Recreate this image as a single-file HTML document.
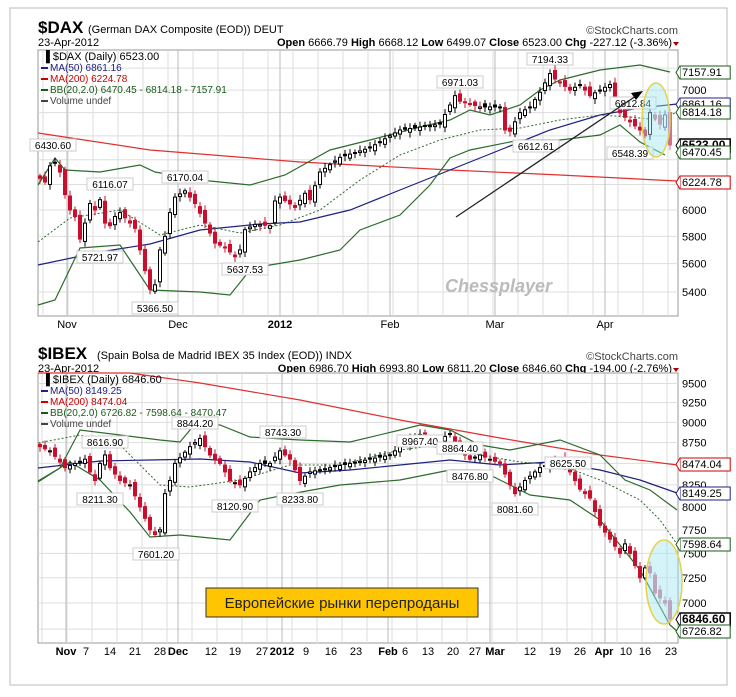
<!DOCTYPE html>
<html><head><meta charset="utf-8"><style>
body{margin:0;background:#fff;width:736px;height:692px;overflow:hidden;font-family:"Liberation Sans",sans-serif}
svg text{font-family:"Liberation Sans","DejaVu Sans",sans-serif}
</style></head><body>
<svg id="s" width="736" height="692" xmlns="http://www.w3.org/2000/svg">
<rect x="10" y="8" width="717" height="677" fill="#fff" stroke="#bbb"/>
<text x="38" y="33" font-size="17" font-weight="bold">$DAX</text>
<text x="88" y="33" font-size="11">(German DAX Composite (EOD)) DEUT</text>
<text x="38" y="46" font-size="11">23-Apr-2012</text>
<text x="678" y="34" font-size="11" text-anchor="end" fill="#444">©StockCharts.com</text>
<text x="672" y="46" font-size="11" text-anchor="end"><tspan font-weight="bold">Open</tspan> 6666.79 <tspan font-weight="bold">High</tspan> 6668.12 <tspan font-weight="bold">Low</tspan> 6499.07 <tspan font-weight="bold">Close</tspan> 6523.00 <tspan font-weight="bold">Chg</tspan> -227.12 (-3.36%)</text>
<path d="M673 42l6 0-3 4z" fill="#a00"/>
<text x="38" y="359" font-size="17" font-weight="bold">$IBEX</text>
<text x="97" y="359" font-size="11">(Spain Bolsa de Madrid IBEX 35 Index (EOD)) INDX</text>
<text x="38" y="372" font-size="11">23-Apr-2012</text>
<text x="678" y="360" font-size="11" text-anchor="end" fill="#444">©StockCharts.com</text>
<text x="672" y="372" font-size="11" text-anchor="end"><tspan font-weight="bold">Open</tspan> 6986.70 <tspan font-weight="bold">High</tspan> 6993.80 <tspan font-weight="bold">Low</tspan> 6811.20 <tspan font-weight="bold">Close</tspan> 6846.60 <tspan font-weight="bold">Chg</tspan> -194.00 (-2.76%)</text>
<path d="M673 368l6 0-3 4z" fill="#a00"/>
<g id="g"></g>
</svg>
<script>
const NS="http://www.w3.org/2000/svg",g=document.getElementById('g');
function el(t,a,txt){const e=document.createElementNS(NS,t);for(const k in a)e.setAttribute(k,a[k]);if(txt!=null)e.textContent=txt;g.appendChild(e);return e;}
function interp(kp,n){const o=[];for(let i=0;i<n;i++){let j=0;while(j<kp.length-2&&kp[j+1][0]<i)j++;const a=kp[j],b=kp[j+1];const t=Math.min(1,Math.max(0,(i-a[0])/(b[0]-a[0])));o.push(a[1]+(b[1]-a[1])*t);}return o;}
function pl(pts,stroke,extra){el('polyline',Object.assign({points:pts.map(p=>p.join(',')).join(' '),fill:'none',stroke:stroke,'stroke-width':1.2},extra||{}));}
function panel(o){
 const L=38,R=678,T=o.T,B=o.B;
 el('rect',{x:L,y:T,width:R-L,height:B-T,fill:'#fff',stroke:'#999'});
 o.grid.forEach(p=>{const y=o.Y(p);if(y>T&&y<B)el('line',{x1:L,x2:R,y1:y,y2:y,stroke:'#ddd'});});
 for(let x=o.vx0;x<R;x+=o.vstep)el('line',{x1:x,x2:x,y1:T,y2:B,stroke:'#ddd'});
 o.months.forEach(x=>el('line',{x1:x,x2:x,y1:T,y2:B,stroke:'#bbb'}));
 o.ticks.forEach(p=>el('text',{x:682,y:o.Y(p)+4,'font-size':11},p));
 pl(o.ma200,'#e03030');pl(o.ma50,'#202080');pl(o.bbu,'#2e6b2e');pl(o.bbl,'#2e6b2e');pl(o.bbm,'#2e6b2e',{'stroke-dasharray':'2,2','stroke-width':1});
 const c=interp(o.kp,127);
 let prev=c[0]*1.003;
 for(let i=0;i<127;i++){
  const x=40+5*i;const n=Math.sin(i*2.7)*0.004*c[i];
  const op=i==0?prev:prev+n;const cl=c[i];
  const hi=Math.max(op,cl)*(1+0.003+Math.abs(Math.sin(i*1.3))*0.004);
  const lo=Math.min(op,cl)*(1-0.003-Math.abs(Math.cos(i*1.7))*0.004);
  const up=cl>=op;const red=cl<prev;
  let col=red?'#c8102e':'#000';
  const fade=i>=o.fadeFrom;
  el('line',{x1:x,x2:x,y1:o.Y(hi),y2:o.Y(lo),stroke:fade?(red?'#c87090':'#557'):col});
  const y1=o.Y(Math.max(op,cl)),y2=o.Y(Math.min(op,cl));
  el('rect',{x:x-1.5,y:y1,width:3,height:Math.max(1,y2-y1),fill:up?'#fff':(fade?'#d07090':col),stroke:fade?(up?'#557':'#d07090'):(up?'#000':col),'stroke-width':1});
  prev=cl;
 }
 o.legend.forEach((l,k)=>{const y=T+10+k*11;if(k>0)el('rect',{x:L+3,y:y-4,width:7,height:2,fill:l[1]});el('text',{x:k==0?L+4:L+12,y:y,'font-size':k==0?11:10,fill:l[1]},l[0]);});
 o.labels.forEach(l=>{const w=l[0].length*6+4;el('rect',{x:l[1]-w/2,y:l[2]-10,width:w,height:12,fill:'#fff',stroke:'#ccc'});el('text',{x:l[1],y:l[2],'font-size':10,'text-anchor':'middle'},l[0]);});
 o.boxes.forEach(b=>{const w=b[0].length*6.6+4;el('rect',{x:680,y:b[1]-10,width:w,height:13,fill:'#fff',stroke:b[2],'stroke-width':b[3]?1.5:1});el('path',{d:`M680 ${b[1]-10}l-4 6.5 4 6.5`,fill:'#fff',stroke:b[2]});el('text',{x:682,y:b[1],'font-size':b[3]?12:11,'font-weight':b[3]?'bold':'normal',fill:'#000'},b[0]);});
 o.xl.forEach(l=>el('text',{x:l[1],y:B+12,'font-size':11,'font-weight':l[2]?'bold':'normal','text-anchor':'middle'},l[0]));
}
const YD=p=>210-778*Math.log(p/6000), YI=p=>507-719*Math.log(p/8000);
panel({T:50,B:316,Y:YD,grid:[5400,5600,5800,6000,6200,6400,6600,6800,7000,7200],ticks:[5400,5600,5800,6000,6800,7000],
 vx0:43,vstep:25,months:[67,178,280,390,495,605],fadeFrom:123,
 ma200:[[38,133],[150,150],[300,162],[450,170],[560,175],[677,181]],
 ma50:[[38,265],[100,252],[150,244],[200,230],[260,224],[300,222],[350,210],[400,190],[450,170],[500,150],[550,130],[600,115],[640,108],[677,104]],
 bbu:[[38,185],[55,158],[65,170],[100,172],[140,165],[155,172],[200,180],[250,185],[285,175],[330,150],[370,140],[420,127],[450,120],[470,110],[490,115],[520,105],[540,90],[560,80],[600,70],[640,65],[670,72]],
 bbl:[[38,305],[55,300],[80,248],[120,245],[150,290],[200,292],[230,295],[250,270],[270,265],[300,260],[340,250],[360,230],[400,215],[430,185],[450,158],[470,150],[520,140],[560,140],[600,135],[620,125],[640,142],[665,155]],
 bbm:[[38,242],[70,218],[120,210],[160,235],[200,225],[240,233],[280,225],[320,210],[360,180],[400,155],[440,140],[480,130],[520,128],[560,120],[600,115],[630,117],[660,120],[677,112]],
 kp:[[0,6250],[1,6220],[2,6350],[3,6380],[4,6300],[5,6120],[6,6000],[7,5950],[8,5780],[9,5900],[10,6050],[11,6000],[12,6080],[13,5900],[14,5880],[15,5950],[16,5980],[18,5900],[19,5860],[20,5700],[21,5550],[22,5420],[23,5450],[24,5700],[25,5800],[26,5980],[27,6100],[29,6150],[31,6050],[33,5900],[35,5750],[37,5720],[39,5650],[40,5700],[41,5850],[43,5890],[46,5880],[47,6070],[48,6100],[51,6020],[53,6130],[54,6080],[56,6300],[60,6420],[66,6500],[72,6650],[80,6700],[83,6950],[84,6900],[88,6850],[92,6850],[93,6650],[94,6640],[96,6800],[98,6850],[100,6980],[102,7150],[103,7100],[106,7000],[108,7050],[110,6950],[112,7000],[114,7050],[115,6900],[116,6800],[118,6720],[120,6650],[121,6600],[122,6800],[123,6750],[124,6700],[125,6780],[126,6523]],
 legend:[['\u2590 $DAX (Daily) 6523.00','#000'],['MA(50) 6861.16','#202080'],['MA(200) 6224.78','#c00'],['BB(20,2.0) 6470.45 - 6814.18 - 7157.91','#1a5a1a'],['Volume undef','#444']],
 labels:[['6430.60',53,149],['6116.07',110,188],['5721.97',100,261],['5366.50',155,312],['6170.04',185,181],['5637.53',245,273],['6971.03',460,86],['6612.61',536,150],['7194.33',550,63],['6812.84',633,107],['6548.39',630,157]],
 boxes:[['7157.91',76,'#1a5a1a'],['6861.16',108,'#202080'],['6814.18',116,'#1a5a1a'],['6523.00',149,'#000',1],['6470.45',156,'#1a5a1a'],['6224.78',186,'#c00']],
 xl:[['Nov',67],['Dec',178],['2012',280,1],['Feb',390],['Mar',495],['Apr',605]]});
panel({T:373,B:643,Y:YI,grid:[6750,7000,7250,7500,7750,8000,8250,8500,8750,9000,9250,9500],ticks:[7000,7250,7500,7750,8000,8250,8500,8750,9000,9250,9500],
 vx0:42,vstep:25,months:[66,178,282,388,490,605],fadeFrom:122,
 ma200:[[38,373],[130,373],[200,383],[300,400],[400,420],[500,438],[600,455],[677,465]],
 ma50:[[38,468],[100,461],[150,460],[200,459],[250,462],[300,473],[350,470],[400,465],[450,460],[500,465],[550,462],[600,470],[640,480],[677,493]],
 bbu:[[38,482],[60,468],[80,430],[120,435],[160,440],[180,442],[195,424],[220,425],[250,437],[300,440],[350,442],[400,430],[420,425],[450,430],[480,445],[510,450],[560,440],[600,455],[625,480],[650,490],[677,510]],
 bbl:[[38,481],[70,462],[100,480],[130,512],[150,537],[180,535],[230,540],[260,500],[290,494],[340,485],[400,480],[450,470],[480,470],[500,480],[530,495],[570,500],[600,520],[640,570],[670,625],[677,631]],
 bbm:[[38,443],[80,435],[120,445],[160,485],[190,487],[240,480],[290,465],[340,465],[400,450],[440,445],[480,455],[520,462],[560,465],[600,480],[640,500],[660,520],[677,544]],
 kp:[[0,8700],[2,8650],[5,8450],[7,8500],[9,8550],[10,8400],[11,8300],[12,8500],[13,8600],[14,8450],[16,8300],[18,8250],[20,8000],[22,7750],[23,7700],[24,7750],[25,8150],[26,8300],[27,8500],[30,8700],[32,8800],[34,8600],[36,8500],[38,8300],[40,8250],[42,8400],[44,8500],[46,8500],[48,8650],[50,8550],[52,8300],[54,8400],[58,8450],[62,8500],[66,8550],[70,8600],[74,8800],[76,8850],[78,8750],[80,8800],[82,8850],[84,8650],[86,8550],[88,8600],[90,8550],[92,8500],[94,8250],[95,8150],[97,8300],[100,8450],[104,8550],[106,8400],[108,8200],[110,8100],[112,7800],[114,7650],[116,7500],[117,7600],[118,7500],[120,7250],[121,7350],[122,7300],[123,7100],[124,7050],[125,7000],[126,6846]],
 legend:[['\u2590 $IBEX (Daily) 6846.60','#000'],['MA(50) 8149.25','#202080'],['MA(200) 8474.04','#c00'],['BB(20,2.0) 6726.82 - 7598.64 - 8470.47','#1a5a1a'],['Volume undef','#444']],
 labels:[['8616.90',105,446],['8211.30',100,503],['7601.20',156,558],['8844.20',195,427],['8120.90',235,510],['8743.30',283,436],['8233.80',300,503],['8967.40',420,445],['8864.40',460,452],['8476.80',470,480],['8081.60',515,513],['8625.50',568,467]],
 boxes:[['8474.04',468,'#c00'],['8149.25',497,'#202080'],['7598.64',548,'#1a5a1a'],['6846.60',623,'#000',1],['6726.82',635,'#1a5a1a']],
 xl:[['Nov',66,1],['7',86],['14',110],['21',135],['28',160],['Dec',178,1],['12',211],['19',235],['27',262],['2012',282,1],['9',306],['16',331],['23',356],['Feb',388,1],['6',405],['13',428],['20',453],['27',475],['Mar',495,1],['12',530],['19',555],['26',580],['Apr',604,1],['10',626],['16',645],['23',671]]});
el('line',{x1:456,y1:217,x2:636,y2:96,stroke:'#222','stroke-width':1.3});
el('path',{d:'M643 91l-12 2 5 7z',fill:'#000'});
el('ellipse',{cx:656,cy:120,rx:14,ry:37,fill:'rgba(160,230,245,0.45)',stroke:'#e6d24a','stroke-width':1.5});
el('ellipse',{cx:664,cy:582,rx:18,ry:42,fill:'rgba(160,230,245,0.45)',stroke:'#e6d24a','stroke-width':1.5});
el('text',{x:445,y:292,'font-size':18,'font-weight':'bold','font-style':'italic',fill:'#bbb'},'Chessplayer');
el('rect',{x:206,y:588,width:272,height:29,fill:'#ffc600',stroke:'#333'});
el('text',{x:342,y:608,'font-size':15,'text-anchor':'middle',fill:'#222'},'Европейские рынки перепроданы');
</script>
</body></html>
